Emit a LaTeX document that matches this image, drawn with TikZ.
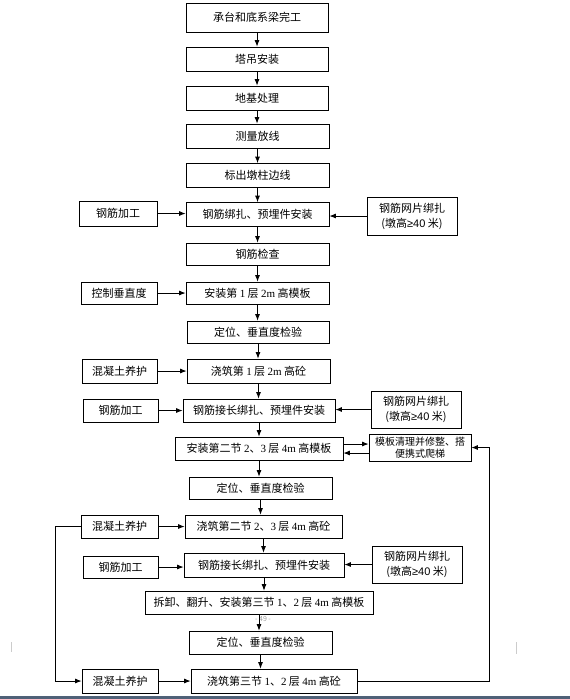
\documentclass[tikz,border=0pt]{standalone}
\usepackage{fontspec}
\setmainfont{Noto Sans CJK SC}
\newfontfamily\numfont{Liberation Serif}
\newfontfamily\latfont{Liberation Sans}
\usetikzlibrary{arrows.meta}
\definecolor{barblue}{HTML}{4F6178}
\newcommand\nm[1]{{\numfont #1}}

\begin{document}
\begin{tikzpicture}[x=1pt, y=-1pt,
      box/.style={draw=black, line width=0.8pt, inner sep=0pt, align=center,
         font=\fontsize{11}{15}\selectfont},
      arr/.style={-{Latex[length=6.5pt,width=5pt]}, line width=0.8pt}]
      \useasboundingbox (0,0) rectangle (570,699);

      % main column
      \node[box, minimum width=142pt, minimum height=29pt] (n1) at (257,17.5) {承台和底系梁完工};
      \node[box, minimum width=142pt, minimum height=24pt] (n2) at (257,59) {塔吊安装};
      \node[box, minimum width=142pt, minimum height=24pt] (n3) at (257,98) {地基处理};
      \node[box, minimum width=143pt, minimum height=24pt] (n4) at (257.5,136) {测量放线};
      \node[box, minimum width=143pt, minimum height=24pt] (n5) at (257.5,175.5) {标出墩柱边线};
      \node[box, minimum width=143pt, minimum height=24pt] (n6) at (257.5,214.5) {钢筋绑扎、预埋件安装};
      \node[box, minimum width=143pt, minimum height=22pt] (n7) at (257.5,254) {钢筋检查};
      \node[box, minimum width=143pt, minimum height=22pt] (n8) at (257.5,293) {安装第 \nm{1} 层 \nm{2m} 高模板};
      \node[box, minimum width=142pt, minimum height=22pt] (n9) at (258,332) {定位、垂直度检验};
      \node[box, minimum width=143pt, minimum height=24pt] (n10) at (258.5,371) {浇筑第 \nm{1} 层 \nm{2m} 高砼};
      \node[box, minimum width=152pt, minimum height=23pt] (n11) at (259,410.5) {钢筋接长绑扎、预埋件安装};
      \node[box, minimum width=168pt, minimum height=23pt] (n12) at (259,448.5) {安装第二节 \nm{2}、\nm{3} 层 \nm{4m} 高模板};
      \node[box, minimum width=143pt, minimum height=22pt] (n13) at (260.5,488) {定位、垂直度检验};
      \node[box, minimum width=157pt, minimum height=23pt] (n14) at (263.5,526.5) {浇筑第二节 \nm{2}、\nm{3} 层 \nm{4m} 高砼};
      \node[box, minimum width=160pt, minimum height=24pt] (n15) at (264,565) {钢筋接长绑扎、预埋件安装};
      \node[box, minimum width=228pt, minimum height=23pt] (n16) at (259,602.5) {拆卸、翻升、安装第三节 \nm{1}、\nm{2} 层 \nm{4m} 高模板};
      \node[box, minimum width=143pt, minimum height=23pt] (n17) at (260.5,642.5) {定位、垂直度检验};
      \node[box, minimum width=166pt, minimum height=24pt] (n18) at (274,681) {浇筑第三节 \nm{1}、\nm{2} 层 \nm{4m} 高砼};

      % left side
      \node[box, minimum width=78pt, minimum height=25pt] (jga) at (118,213.5) {钢筋加工};
      \node[box, minimum width=76pt, minimum height=22pt] (kz) at (119,293) {控制垂直度};
      \node[box, minimum width=75pt, minimum height=24pt] (yh1) at (119.5,371) {混凝土养护};
      \node[box, minimum width=75pt, minimum height=23pt] (jgb) at (120.5,410.5) {钢筋加工};
      \node[box, minimum width=77pt, minimum height=23pt] (yh2) at (119.5,526.5) {混凝土养护};
      \node[box, minimum width=75pt, minimum height=22pt] (jgc) at (120.5,567) {钢筋加工};
      \node[box, minimum width=76pt, minimum height=24pt] (yh3) at (120,681) {混凝土养护};

      % right side
      \node[box, minimum width=90pt, minimum height=38pt] (wpa) at (412,216) {钢筋网片绑扎\\({墩高}{\latfont ≥40} 米)};
      \node[box, minimum width=90pt, minimum height=37pt] (wpb) at (416,409.5) {钢筋网片绑扎\\({墩高}{\latfont ≥40} 米)};
      \node[box, minimum width=90pt, minimum height=37pt] (wpc) at (417,564.5) {钢筋网片绑扎\\({墩高}{\latfont ≥40} 米)};
      \node[box, minimum width=102pt, minimum height=27pt, font=\fontsize{10}{11.5}\selectfont] (mb) at (420,447.5) {模板清理并修整、搭\\便携式爬梯};

      \node[text=gray!75, font=\fontsize{7}{8}\selectfont] (pg) at (263,619) {- 49 -};

      \coordinate (lx) at (55,0);
      \coordinate (rx) at (489.5,0);

      \foreach \a/\b in {n1/n2, n2/n3, n3/n4, n4/n5, n5/n6, n6/n7, n7/n8, n8/n9,
            n9/n10, n10/n11, n11/n12, n12/n13, n13/n14, n14/n15, n15/n16, n16/n17, n17/n18}
         \draw[arr] (\a.south) -- (\a.south |- \b.north);

      \path[arr]
         (jga) edge (jga -| n6.west)
         (kz) edge (kz -| n8.west)
         (yh1) edge (yh1 -| n10.west)
         (jgb) edge (jgb -| n11.west)
         (yh2) edge (yh2 -| n14.west)
         (jgc) edge (jgc -| n15.west)
         (yh3) edge (yh3 -| n18.west)
         (wpa) edge (wpa -| n6.east)
         (wpb) edge (wpb -| n11.east)
         (wpc) edge (wpc -| n15.east)
         ([yshift=4.5pt]n12.east) edge ([yshift=4.5pt]n12.east -| mb.west)
         ([yshift=-5.5pt]mb.west) edge ([yshift=-5.5pt]mb.west -| n12.east);

      \draw[arr] (yh2.west) -- (yh2.west -| lx) |- (yh3.west);
      \draw[arr] (n18.east) -- (n18.east -| rx) |- (mb.east);

      % page edge
      \draw[gray!40, line width=0.6pt] (11,642) -- (11,652) (516,642) -- (516,654);
      \fill[barblue] (0,696) rectangle (570,699);
   \end{tikzpicture}
\end{document}
